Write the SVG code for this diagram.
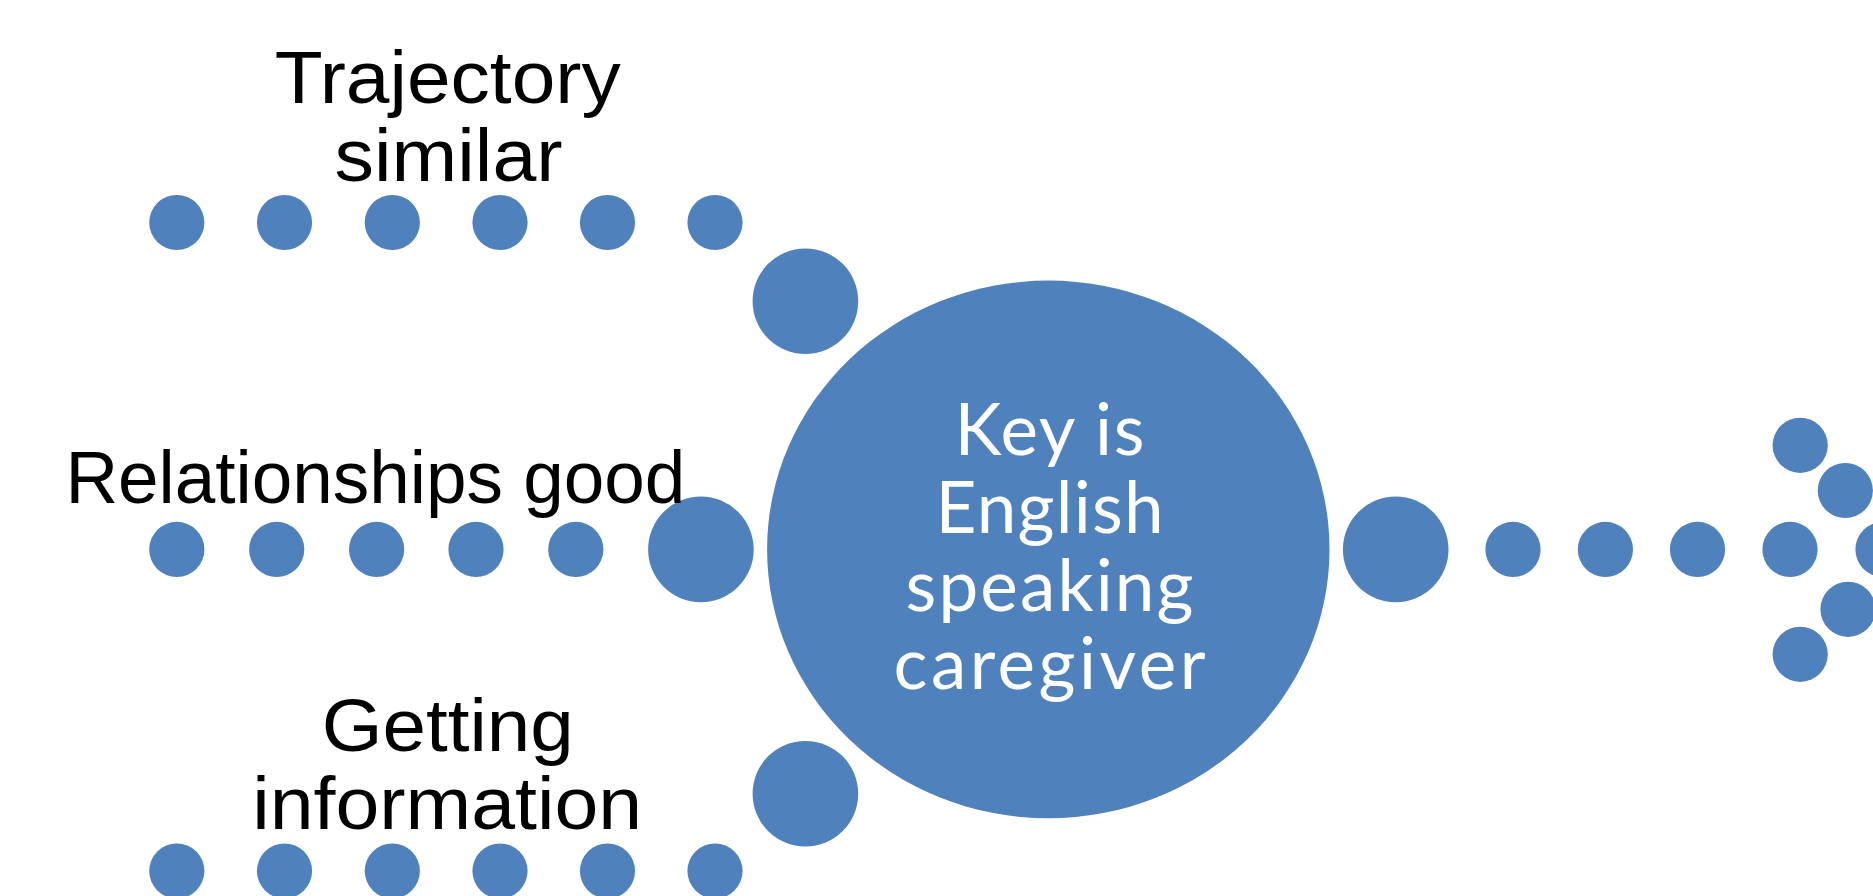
<svg xmlns="http://www.w3.org/2000/svg" width="1873" height="896" viewBox="0 0 1873 896">
  <style>
    .dot { fill: #4F81BD; }
    .label { font-family: "Liberation Sans", Arial, sans-serif; font-size: 74px; fill: #000; text-anchor: middle; }
    .core { font-family: Lato, "Open Sans", sans-serif; font-size: 71px; fill: #fff; text-anchor: middle; }
  </style>
  <rect width="1873" height="896" fill="#fff"/>

  <!-- dotted trails leading into and out of the hub -->
  <g id="connectors">
    <!-- top trail -->
    <circle class="dot" cx="176.8" cy="222.5" r="27.6"/>
    <circle class="dot" cx="284.5" cy="222.5" r="27.6"/>
    <circle class="dot" cx="392.3" cy="222.5" r="27.6"/>
    <circle class="dot" cx="500" cy="222.5" r="27.6"/>
    <circle class="dot" cx="607.5" cy="222.5" r="27.6"/>
    <circle class="dot" cx="715" cy="222.5" r="27.6"/>
    <circle class="dot" cx="805.4" cy="301.2" r="52.8"/>
    <!-- middle trail -->
    <circle class="dot" cx="176.8" cy="549.4" r="27.6"/>
    <circle class="dot" cx="276.7" cy="549.4" r="27.6"/>
    <circle class="dot" cx="376.6" cy="549.4" r="27.6"/>
    <circle class="dot" cx="476" cy="549.4" r="27.6"/>
    <circle class="dot" cx="575.8" cy="549.4" r="27.6"/>
    <circle class="dot" cx="700.9" cy="549.4" r="52.8"/>
    <!-- bottom trail -->
    <circle class="dot" cx="176.8" cy="871" r="27.6"/>
    <circle class="dot" cx="284.5" cy="871" r="27.6"/>
    <circle class="dot" cx="392.3" cy="871" r="27.6"/>
    <circle class="dot" cx="500" cy="871" r="27.6"/>
    <circle class="dot" cx="607.5" cy="871" r="27.6"/>
    <circle class="dot" cx="715" cy="871" r="27.6"/>
    <circle class="dot" cx="805.4" cy="793.7" r="52.8"/>
    <!-- outgoing trail -->
    <circle class="dot" cx="1395.7" cy="549.4" r="52.8"/>
    <circle class="dot" cx="1513" cy="549.4" r="27.6"/>
    <circle class="dot" cx="1605.4" cy="549.4" r="27.6"/>
    <circle class="dot" cx="1697.5" cy="549.4" r="27.6"/>
    <circle class="dot" cx="1790" cy="549.4" r="27.6"/>
    <!-- arrow head -->
    <circle class="dot" cx="1800.2" cy="445.3" r="27.6"/>
    <circle class="dot" cx="1845.3" cy="490.5" r="27.6"/>
    <circle class="dot" cx="1883" cy="549.4" r="27.6"/>
    <circle class="dot" cx="1848" cy="609.3" r="27.6"/>
    <circle class="dot" cx="1800.2" cy="654.3" r="27.6"/>
  </g>

  <g id="hub">
    <ellipse class="dot" cx="1048.3" cy="549.4" rx="281.2" ry="268.8"/>
    <text class="core" x="1049.5" y="455" textLength="190" lengthAdjust="spacing">Key is</text>
    <text class="core" x="1049.5" y="533" textLength="228" lengthAdjust="spacing">English</text>
    <text class="core" x="1049.5" y="610.5" textLength="288" lengthAdjust="spacing">speaking</text>
    <text class="core" x="1049.5" y="689" textLength="312" lengthAdjust="spacing">caregiver</text>
  </g>

  <g id="trajectory">
    <text class="label" x="447.7" y="102.7" textLength="346" lengthAdjust="spacingAndGlyphs">Trajectory</text>
    <text class="label" x="448.6" y="181" textLength="228" lengthAdjust="spacingAndGlyphs">similar</text>
  </g>

  <g id="relationships">
    <text class="label" x="375.4" y="503.3" textLength="620" lengthAdjust="spacingAndGlyphs">Relationships good</text>
  </g>

  <g id="information">
    <text class="label" x="447.8" y="750.7" textLength="252" lengthAdjust="spacingAndGlyphs">Getting</text>
    <text class="label" x="447.2" y="829.3" textLength="390" lengthAdjust="spacingAndGlyphs">information</text>
  </g>
</svg>
